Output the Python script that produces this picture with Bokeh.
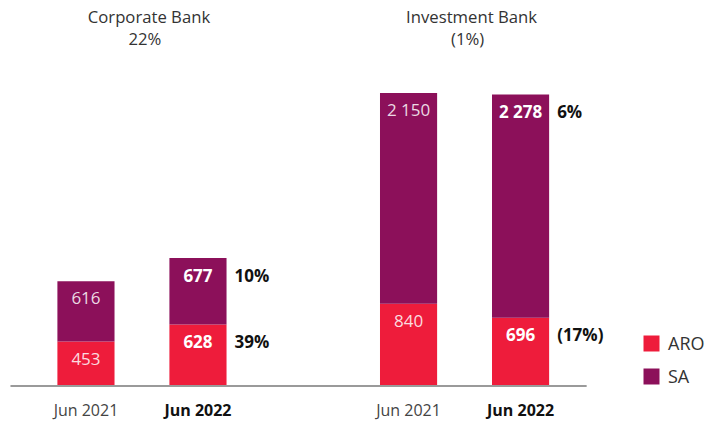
from bokeh.plotting import figure
from bokeh.models import ColumnDataSource, Range1d, Legend, LegendItem
from bokeh.core.properties import value
from bokeh.embed import file_html
from bokeh.resources import INLINE

# ---- data ----
groups = ["Corporate Bank", "Investment Bank"]
group_changes = ["22%", "(1%)"]
periods = ["Jun 2021", "Jun 2022"]
aro = [453, 628, 840, 696]
sa = [616, 677, 2150, 2278]
aro_change = ["", "39%", "", "(17%)"]
sa_change = ["", "10%", "", "6%"]

ARO_COLOR = "#EE1C3B"
SA_COLOR = "#8C105A"
FONT = "Open Sans"

group_step = 2.88
bar_w = 0.51
xs, period_lbl, is_new = [], [], []
for gi, g in enumerate(groups):
    for pi, per in enumerate(periods):
        xs.append(gi * group_step + pi)
        period_lbl.append(per)
        is_new.append(pi == len(periods) - 1)

fmt = lambda v: f"{v:,}".replace(",", " ")
src = ColumnDataSource(dict(
    x=xs, aro=aro, sa=sa,
    sa_top=[a + s for a, s in zip(aro, sa)],
    aro_txt=[fmt(v) for v in aro],
    sa_txt=[fmt(v) for v in sa],
    aro_chg=aro_change, sa_chg=sa_change,
    period=period_lbl,
    weight=["bold" if n else "normal" for n in is_new],
    in_color=["#ffffff" for n in is_new],
    in_alpha=[1.0 if n else 0.85 for n in is_new],
    ax_color=["#111111" if n else "#444444" for n in is_new],
    xr=[x + bar_w / 2 for x in xs],
    zero=[0] * len(xs),
))

y_top = 3934
p = figure(width=706, height=423, x_range=Range1d(-0.763, 5.540), y_range=Range1d(-383, y_top),
           output_backend="svg", toolbar_location=None, min_border=0,
           x_axis_type=None, y_axis_type=None)
p.grid.visible = False
p.outline_line_color = None

rs = p.vbar_stack(["aro", "sa"], x="x", width=bar_w, color=[ARO_COLOR, SA_COLOR], source=src,
                  line_color=None)

# baseline
p.segment(x0=xs[0] - 0.674, x1=xs[-1] + 0.59, y0=0, y1=0, line_color="#9a9a9a", line_width=2)

# value labels inside bars
common = dict(source=src, text_align="center", text_baseline="middle", text_font=value(FONT),
              text_font_size="17px", text_font_style="weight", text_color="in_color",
              text_alpha="in_alpha", y_offset=17)
p.text(x="x", y="aro", text="aro_txt", **common)
p.text(x="x", y="sa_top", text="sa_txt", **common)

# change labels to the right
chg = dict(source=src, text_align="left", text_baseline="middle", text_font=value(FONT),
           text_font_size="17px", text_font_style="bold", text_color="#111111", y_offset=17, x_offset=8)
p.text(x="xr", y="aro", text="aro_chg", **chg)
p.text(x="xr", y="sa_top", text="sa_chg", **chg)

# period labels
p.text(x="x", y="zero", text="period", source=src, text_align="center", text_baseline="middle",
       text_font=value(FONT), text_font_size="16px", text_font_style="weight",
       text_color="ax_color", y_offset=24)

# group titles
gsrc = ColumnDataSource(dict(
    x=[gi * group_step + (len(periods) - 1) / 2 for gi in range(len(groups))],
    y=[y_top] * len(groups),
    name=groups, chg=group_changes,
))
p.text(x="x", y="y", text="name", source=gsrc, text_align="center", text_baseline="middle",
       text_font=value(FONT), text_font_size="16.7px", text_color="#333333", y_offset=16, x_offset=7)
p.text(x="x", y="y", text="chg", source=gsrc, text_align="center", text_baseline="middle",
       text_font=value(FONT), text_font_size="16.7px", text_color="#333333", y_offset=38, x_offset=3)

legend = Legend(items=[LegendItem(label="ARO", renderers=[rs[0]]),
                       LegendItem(label="SA", renderers=[rs[1]])],
                location=(641, 35), glyph_width=20, glyph_height=20, label_height=20,
                spacing=9, padding=0, margin=0, label_standoff=7,
                label_text_font=FONT, label_text_font_size="18px", label_text_color="#333333",
                border_line_color=None, background_fill_alpha=0)
p.add_layout(legend)

open("out.html", "w").write(file_html(p, INLINE))
